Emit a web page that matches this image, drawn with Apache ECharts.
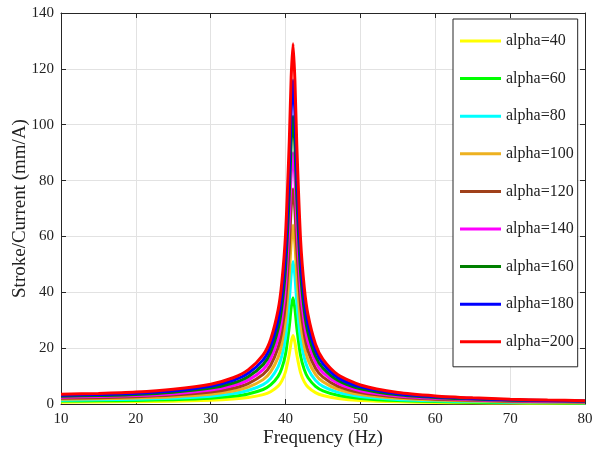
<!DOCTYPE html>
<html>
<head>
<meta charset="utf-8">
<script src="https://cdn.jsdelivr.net/npm/echarts@6/dist/echarts.min.js"></script>
<style>
html,body{margin:0;padding:0;background:#fff;}
#chart{width:607px;height:453px;}
</style>
</head>
<body>
<div id="chart"></div>
<script>
var freqs = [10,15,20,25,30,33,35,37,38,39,39.5,40,40.5,40.75,41,41.25,41.5,42,42.5,43,44,45,47,50,55,60,65,70,75,80];
var seriesNames = ['alpha=40','alpha=60','alpha=80','alpha=100','alpha=120','alpha=140','alpha=160','alpha=180','alpha=200'];
var alpha40  = [0.67,0.72,0.82,1.0,1.35,1.78,2.32,3.34,4.39,6.38,8.27,11.6,17.9,22.2,24.5,22,17.6,11.2,7.92,6.06,4.07,3.04,2.0,1.29,0.78,0.55,0.42,0.32,0.27,0.23];
var alpha60  = [1.03,1.12,1.27,1.56,2.09,2.77,3.6,5.19,6.81,9.91,12.8,17.9,27.8,34.5,38,34.1,27.3,17.4,12.3,9.41,6.31,4.72,3.1,2.0,1.21,0.86,0.65,0.5,0.41,0.35];
var alpha80  = [1.38,1.5,1.7,2.09,2.8,3.71,4.82,6.95,9.12,13.3,17.2,24,37.2,46.2,51,45.7,36.5,23.3,16.5,12.6,8.45,6.32,4.15,2.69,1.62,1.15,0.87,0.67,0.55,0.47];
var alpha100 = [1.74,1.89,2.13,2.63,3.52,4.66,6.05,8.73,11.5,16.7,21.6,30.2,46.7,58,64,57.3,45.9,29.3,20.7,15.8,10.6,7.94,5.21,3.37,2.03,1.44,1.09,0.84,0.69,0.6];
var alpha120 = [2.1,2.28,2.58,3.18,4.26,5.64,7.32,10.6,13.9,20.2,26.1,36.5,56.5,70.2,77,69.4,55.5,35.4,25,19.1,12.8,9.6,6.3,4.08,2.46,1.74,1.32,1.02,0.84,0.72];
var alpha140 = [2.45,2.66,3.01,3.71,4.97,6.58,8.54,12.3,16.2,23.5,30.5,42.6,65.9,81.9,90,80.9,64.8,41.3,29.2,22.3,15,11.2,7.35,4.76,2.87,2.03,1.54,1.19,0.98,0.84];
var alpha160 = [2.8,3.04,3.44,4.24,5.68,7.52,9.76,14.1,18.5,26.9,34.8,48.6,75.4,93.6,103,92.5,74,47.2,33.4,25.5,17.1,12.8,8.4,5.44,3.28,2.32,1.76,1.36,1.12,0.96];
var alpha180 = [3.15,3.42,3.87,4.77,6.39,8.46,11.0,15.8,20.8,30.2,39.2,54.7,84.8,105,116,104,83.3,53.1,37.5,28.7,19.3,14.4,9.45,6.12,3.69,2.61,1.98,1.53,1.26,1.08];
var alpha200 = [3.5,3.8,4.3,5.3,7.1,9.4,12.2,17.6,23.1,33.6,43.5,60.8,94.2,117,129,115.6,92.5,59,41.7,31.9,21.4,16.0,10.5,6.8,4.1,2.9,2.2,1.7,1.4,1.2];
var seriesValues = [alpha40,alpha60,alpha80,alpha100,alpha120,alpha140,alpha160,alpha180,alpha200];
var colors = ['#FFFF00','#00FF00','#00FFFF','#EDB120','#A0401A','#FF00FF','#008000','#0000FF','#FF0000'];

var FONT = '"Liberation Serif", "Times New Roman", serif';
var axisColor = '#262626';

function pairs(vals){
  return freqs.map(function(f,i){ return [f, vals[i]]; });
}

var series = seriesNames.map(function(name, i){
  return {
    name: name,
    type: 'line',
    data: pairs(seriesValues[i]),
    symbol: 'none',
    smooth: 0.25,
    lineStyle: { color: colors[i], width: 3 },
    itemStyle: { color: colors[i] },
    z: 2 + i
  };
});

var chart = echarts.init(document.getElementById('chart'), null, {renderer:'canvas'});
chart.setOption({
  animation: false,
  backgroundColor: '#fff',
  grid: { left: 61, right: 22, top: 13, bottom: 49, containLabel: false, outerBoundsMode: 'none' },
  legend: {
    orient: 'vertical',
    left: 453,
    top: 19,
    padding: [14, 4, 17, 7],
    itemWidth: 41,
    itemHeight: 3,
    itemGap: 21.6,
    icon: 'rect',
    backgroundColor: '#fff',
    borderColor: axisColor,
    borderWidth: 1,
    borderRadius: 0,
    textStyle: { fontFamily: FONT, fontSize: 16, color: '#222', lineHeight: 16 },
    data: seriesNames
  },
  xAxis: [{
    type: 'value',
    min: 10, max: 80, interval: 10,
    name: 'Frequency (Hz)',
    nameLocation: 'middle',
    nameGap: 25,
    nameMoveOverlap: false,
    nameTextStyle: { fontFamily: FONT, fontSize: 19, color: '#222', verticalAlign: 'top' },
    axisLine: { show: true, lineStyle: { color: axisColor, width: 1 } },
    axisTick: { show: true, inside: true, length: 5, lineStyle: { color: axisColor } },
    axisLabel: { fontFamily: FONT, fontSize: 15, color: '#222', margin: 8 },
    splitLine: { show: true, lineStyle: { color: '#E2E2E2', width: 1 } }
  },{
    type: 'value', position: 'top',
    min: 10, max: 80, interval: 10,
    axisLine: { show: true, onZero: false, lineStyle: { color: axisColor, width: 1 } },
    axisTick: { show: true, inside: true, length: 5, lineStyle: { color: axisColor } },
    axisLabel: { show: false },
    splitLine: { show: false }
  }],
  yAxis: [{
    type: 'value',
    min: 0, max: 140, interval: 20,
    name: 'Stroke/Current (mm/A)',
    nameLocation: 'middle',
    nameGap: 31,
    nameMoveOverlap: false,
    nameTextStyle: { fontFamily: FONT, fontSize: 19, color: '#222' },
    axisLine: { show: true, lineStyle: { color: axisColor, width: 1 } },
    axisTick: { show: true, inside: true, length: 5, lineStyle: { color: axisColor } },
    axisLabel: { fontFamily: FONT, fontSize: 15, color: '#222', margin: 7 },
    splitLine: { show: true, lineStyle: { color: '#E2E2E2', width: 1 } }
  },{
    type: 'value', position: 'right',
    min: 0, max: 140, interval: 20,
    axisLine: { show: true, onZero: false, lineStyle: { color: axisColor, width: 1 } },
    axisTick: { show: true, inside: true, length: 5, lineStyle: { color: axisColor } },
    axisLabel: { show: false },
    splitLine: { show: false }
  }],
  series: series
});
</script>
</body>
</html>
